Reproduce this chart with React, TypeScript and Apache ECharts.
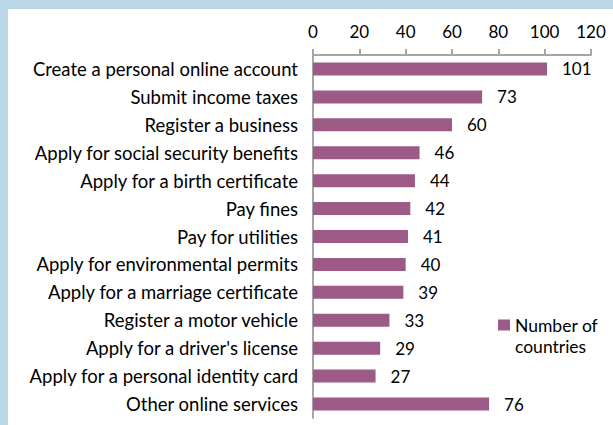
import React, { useEffect, useRef } from "react";
import * as echarts from "echarts";

const categories = [
  "Create a personal online account",
  "Submit income taxes",
  "Register a business",
  "Apply for social security benefits",
  "Apply for a birth certificate",
  "Pay fines",
  "Pay for utilities",
  "Apply for environmental permits",
  "Apply for a marriage certificate",
  "Register a motor vehicle",
  "Apply for a driver's license",
  "Apply for a personal identity card",
  "Other online services",
];
const values = [101, 73, 60, 46, 44, 42, 41, 40, 39, 33, 29, 27, 76];
const seriesName = "Number of countries";
const xTicks = { min: 0, max: 120, interval: 20 };

const FONT = "Lato";

export default function App() {
  const ref = useRef<HTMLDivElement>(null);
  useEffect(() => {
    document.body.style.margin = "0";
    const chart = echarts.init(ref.current!, null, { renderer: "svg" });
    chart.setOption({
      animation: false,
      backgroundColor: "#ffffff",
      textStyle: { fontFamily: FONT },
      grid: { left: 305, right: 22, top: 46, bottom: 7 },
      xAxis: {
        type: "value",
        position: "top",
        min: xTicks.min,
        max: xTicks.max,
        interval: xTicks.interval,
        axisLine: { show: true, lineStyle: { color: "#A6A6A6", width: 2 } },
        axisTick: { show: true, length: 6, lineStyle: { color: "#A6A6A6", width: 2 } },
        splitLine: { show: false },
        axisLabel: { color: "#000", fontSize: 17, fontFamily: FONT, margin: 15 },
      },
      yAxis: {
        type: "category",
        inverse: true,
        data: categories,
        axisLine: { show: true, lineStyle: { color: "#A6A6A6", width: 2 } },
        axisTick: { show: false },
        axisLabel: { color: "#000", fontSize: 18.5, fontFamily: FONT, margin: 15 },
      },
      legend: {
        left: 490,
        top: 307,
        padding: 0,
        itemWidth: 12,
        itemHeight: 11,
        icon: "rect",
        data: [seriesName],
        formatter: () => "Number of",
        textStyle: { color: "#000", fontSize: 17.5, fontFamily: FONT },
      },
      graphic: [
        {
          type: "text",
          left: 507,
          top: 328,
          style: { text: "countries", fontSize: 17.5, fontFamily: FONT, fill: "#000" },
        },
      ],
      series: [
        {
          name: seriesName,
          type: "bar",
          data: values,
          barWidth: 13,
          itemStyle: { color: "#9C5B87" },
          label: {
            show: true,
            position: "right",
            distance: 15,
            color: "#000",
            fontSize: 17,
            fontFamily: FONT,
          },
        },
      ],
    });
    return () => chart.dispose();
  }, []);
  return (
    <div style={{ position: "fixed", left: 0, top: 0, width: 613, height: 425, background: "#BBD8E9" }}>
      <div ref={ref} style={{ position: "absolute", left: 8, top: 9, width: 605, height: 416 }} />
    </div>
  );
}
